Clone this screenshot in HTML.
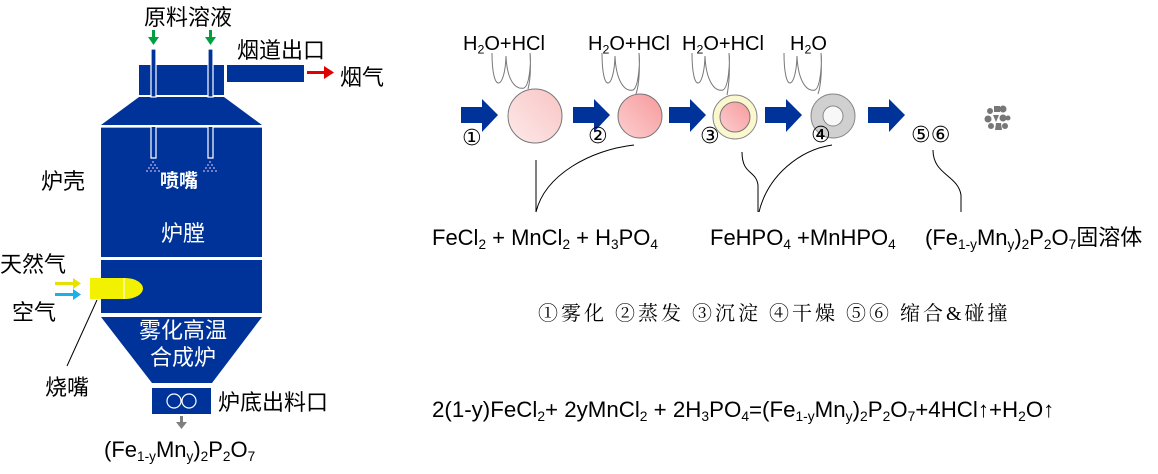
<!DOCTYPE html>
<html><head><meta charset="utf-8"><style>
body{margin:0;width:1158px;height:474px;background:#fff;position:relative;overflow:hidden;font-family:"Liberation Sans","Noto Sans CJK SC",sans-serif;}
.t{position:absolute;white-space:nowrap;line-height:1;color:#000;}
.c{font-family:"DejaVu Sans","Liberation Sans",sans-serif;}
sub{font-size:0.62em;vertical-align:-0.3em;line-height:0;}
svg{position:absolute;left:0;top:0;}
</style></head><body>
<svg width="1158" height="474" viewBox="0 0 1158 474">
<defs>
<linearGradient id="g1" x1="1" y1="0" x2="0" y2="1"><stop offset="0" stop-color="#f9c4c4"/><stop offset="1" stop-color="#fdeaea"/></linearGradient>
<linearGradient id="g2" x1="1" y1="0" x2="0" y2="1"><stop offset="0" stop-color="#f79a9c"/><stop offset="1" stop-color="#fccfd0"/></linearGradient>
</defs>
<g fill="#003399">
<rect x="139" y="65" width="85" height="30"/>
<rect x="227" y="65" width="77" height="17"/>
<polygon points="139,97 224,97 262,125 101,125"/>
<rect x="101" y="127" width="161" height="130"/>
<rect x="101" y="260" width="161" height="53"/>
<polygon points="101,317 262,317 212,383 152,383"/>
<rect x="152" y="388" width="59" height="26"/>
</g>
<g stroke="#fff" stroke-width="1.2" fill="#003399">
<rect x="151" y="49" width="5" height="48"/>
<rect x="208" y="49" width="5" height="48"/>
<path d="M101,127 H151 V158 H156 V127 H208 V158 H213 V127 H262" fill="none"/>
</g>
<g fill="#9a9ad6">
<circle cx="153" cy="162" r="1"/><circle cx="151" cy="165" r="1"/><circle cx="155" cy="165" r="1"/><circle cx="149" cy="168" r="1"/><circle cx="153" cy="168" r="1"/><circle cx="157" cy="168" r="1"/><circle cx="147" cy="171" r="1"/><circle cx="151" cy="171" r="1"/><circle cx="155" cy="171" r="1"/><circle cx="159" cy="171" r="1"/>
<circle cx="210" cy="162" r="1"/><circle cx="208" cy="165" r="1"/><circle cx="212" cy="165" r="1"/><circle cx="206" cy="168" r="1"/><circle cx="210" cy="168" r="1"/><circle cx="214" cy="168" r="1"/><circle cx="204" cy="171" r="1"/><circle cx="208" cy="171" r="1"/><circle cx="212" cy="171" r="1"/><circle cx="216" cy="171" r="1"/>
</g>
<g fill="none" stroke="#fff" stroke-width="1.2"><circle cx="174" cy="401" r="7"/><circle cx="189" cy="401" r="7"/></g>
<g fill="#00a040"><rect x="152" y="30" width="3" height="9"/><polygon points="148,37 159,37 153.5,45"/><rect x="209" y="30" width="3" height="9"/><polygon points="205,37 216,37 210.5,45"/></g>
<g fill="#e00000"><rect x="307" y="71" width="18" height="3"/><polygon points="324,66 334,72.5 324,79"/></g>
<g fill="#808080"><rect x="180" y="416" width="3" height="8"/><polygon points="176,422 187,422 181.5,429"/></g>
<g fill="#e8e000"><rect x="55" y="282" width="19" height="3"/><polygon points="73,278 81,283.5 73,289"/></g>
<g fill="#1ab0e8"><rect x="55" y="293" width="19" height="3"/><polygon points="73,289 81,294.5 73,300"/></g>
<path d="M90,278 H125 A18,10.5 0 0 1 125,299 H90 Z" fill="#f2f200"/>
<line x1="124" y1="278" x2="124" y2="299" stroke="#fff" stroke-width="1"/>
<line x1="97" y1="300" x2="67" y2="366" stroke="#000" stroke-width="1"/>
<g fill="#003399">
<polygon points="461,107 482,107 482,99 498,115 482,132 482,123 461,123"/>
<polygon points="573,107 594,107 594,99 610,115 594,132 594,123 573,123"/>
<polygon points="669,107 690,107 690,99 706,115 690,132 690,123 669,123"/>
<polygon points="765,107 786,107 786,99 802,115 786,132 786,123 765,123"/>
<polygon points="868,107 889,107 889,99 905,115 889,132 889,123 868,123"/>
</g>
<circle cx="535" cy="116" r="27" fill="url(#g1)" stroke="#777" stroke-width="1"/>
<circle cx="640" cy="116" r="22" fill="url(#g2)" stroke="#777" stroke-width="1"/>
<circle cx="735" cy="117" r="22" fill="#fbf8d0" stroke="#888" stroke-width="1"/>
<circle cx="735" cy="117" r="15" fill="url(#g2)" stroke="#777" stroke-width="1"/>
<circle cx="833" cy="116" r="22" fill="#d0d0d0" stroke="#888" stroke-width="1"/>
<circle cx="833" cy="116" r="10" fill="#f8f8f8" stroke="#888" stroke-width="1"/>
<g fill="#777">
<circle cx="990" cy="111" r="3"/><rect x="994" y="106" width="6" height="6"/><circle cx="1003" cy="109" r="3.5"/><circle cx="988" cy="119" r="3.5"/><polygon points="993,115 999,115 996,122"/><circle cx="1003" cy="118" r="3.5"/><circle cx="1008" cy="118" r="2.5"/><circle cx="991" cy="126" r="3"/><polygon points="996,123 1001,123 1002,130 995,130"/><circle cx="1005" cy="126" r="3"/>
</g>
<g fill="none" stroke="#777" stroke-width="1">
<path d="M492,53 C492,95 505,90 506,56 C507,80 515,90 524,88 C530,85 531,60 530,53 M530,53 C531,70 530,82 528,89"/>
<path d="M602,53 C602,95 614,90 615,56 C616,80 624,92 633,90 C639,87 640,60 639,53 M639,53 C640,72 639,85 636,94"/>
<path d="M692,53 C692,95 704,90 705,56 C706,80 714,92 723,90 C729,87 730,60 729,53 M729,53 C730,72 729,85 727,95"/>
<path d="M784,53 C784,95 796,90 797,56 C798,80 806,92 815,90 C821,87 822,60 821,53 M821,53 C822,72 821,85 818,94"/>
</g>
<g fill="none" stroke="#000" stroke-width="1">
<path d="M536,160 V212"/>
<path d="M536,212 C545,175 590,150 634,145"/>
<path d="M742,152 C742,175 756,170 758,185 V212"/>
<path d="M759,212 C768,175 800,150 832,145"/>
<path d="M933,150 C933,175 958,175 961,195 V212"/>
</g>
</svg>
<div class="t" style="left:144px;top:7px;font-size:22px">原料溶液</div>
<div class="t" style="left:237px;top:40px;font-size:22px">烟道出口</div>
<div class="t" style="left:340px;top:67px;font-size:22px">烟气</div>
<div class="t" style="left:41px;top:171px;font-size:22px">炉壳</div>
<div class="t" style="left:160px;top:172px;font-size:19px;color:#fff;font-weight:bold">喷嘴</div>
<div class="t" style="left:161px;top:223px;font-size:22px;color:#fff">炉膛</div>
<div class="t" style="left:0px;top:254px;font-size:22px">天然气</div>
<div class="t" style="left:12px;top:302px;font-size:22px">空气</div>
<div class="t" style="left:139px;top:320px;font-size:22px;color:#fff">雾化高温</div>
<div class="t" style="left:150px;top:347px;font-size:22px;color:#fff">合成炉</div>
<div class="t" style="left:45px;top:377px;font-size:22px">烧嘴</div>
<div class="t" style="left:218px;top:392px;font-size:22px">炉底出料口</div>
<div class="t" style="left:104px;top:439px;font-size:22px">(Fe<sub>1-y</sub>Mn<sub>y</sub>)<sub>2</sub>P<sub>2</sub>O<sub>7</sub></div>

<div class="t" style="left:463px;top:34px;font-size:20px">H<sub>2</sub>O+HCl</div>
<div class="t" style="left:588px;top:34px;font-size:20px">H<sub>2</sub>O+HCl</div>
<div class="t" style="left:682px;top:34px;font-size:20px">H<sub>2</sub>O+HCl</div>
<div class="t" style="left:790px;top:34px;font-size:20px">H<sub>2</sub>O</div>
<div class="t c" style="left:462px;top:128px;font-size:22px">①</div>
<div class="t c" style="left:588px;top:126px;font-size:22px">②</div>
<div class="t c" style="left:700px;top:126px;font-size:22px">③</div>
<div class="t c" style="left:811px;top:125px;font-size:22px">④</div>
<div class="t c" style="left:911px;top:125px;font-size:22px">⑤⑥</div>

<div class="t" style="left:432px;top:227px;font-size:22px">FeCl<sub>2</sub> + MnCl<sub>2</sub> + H<sub>3</sub>PO<sub>4</sub></div>
<div class="t" style="left:710px;top:227px;font-size:22px">FeHPO<sub>4</sub> +MnHPO<sub>4</sub></div>
<div class="t" style="left:925px;top:227px;font-size:22px">(Fe<sub>1-y</sub>Mn<sub>y</sub>)<sub>2</sub>P<sub>2</sub>O<sub>7</sub>固溶体</div>
<div class="t" style="left:538px;top:304px;font-size:20px;letter-spacing:3px;font-family:'Liberation Serif','Noto Serif CJK SC',serif">①雾化 ②蒸发 ③沉淀 ④干燥 ⑤⑥ 缩合&amp;碰撞</div>
<div class="t" style="left:432px;top:399px;font-size:22.3px">2(1-y)FeCl<sub>2</sub>+ 2yMnCl<sub>2</sub> + 2H<sub>3</sub>PO<sub>4</sub>=(Fe<sub>1-y</sub>Mn<sub>y</sub>)<sub>2</sub>P<sub>2</sub>O<sub>7</sub>+4HCl↑+H<sub>2</sub>O↑</div>
</body></html>
